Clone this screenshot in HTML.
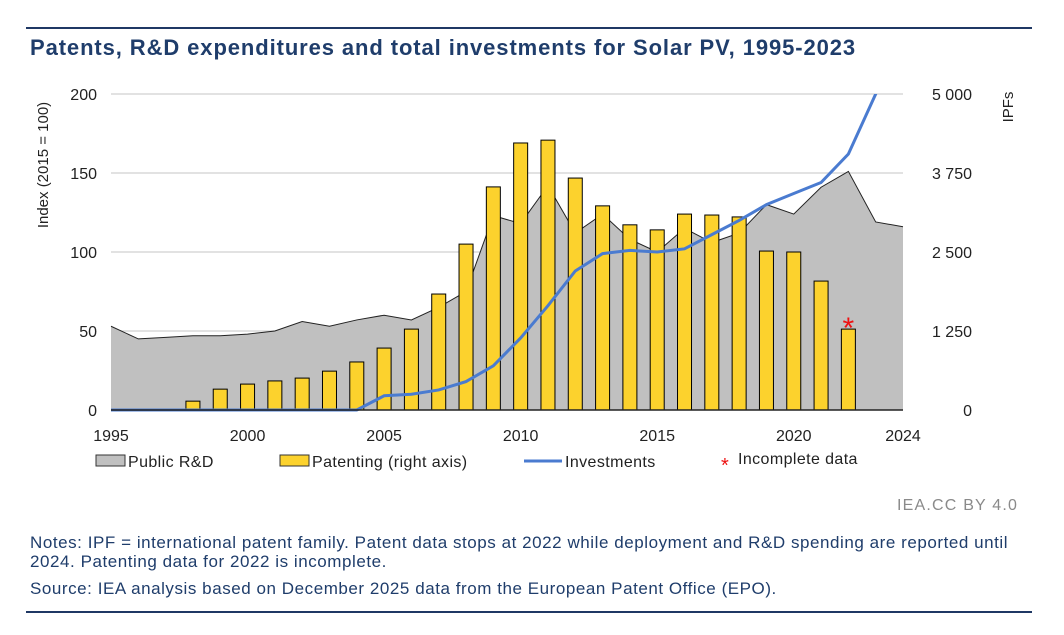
<!DOCTYPE html>
<html><head><meta charset="utf-8">
<style>
body{margin:0;background:#fff;font-family:"Liberation Sans",Arial,sans-serif;}
#wrap{position:relative;width:1064px;height:635px;overflow:hidden;}
.hr{position:absolute;left:26px;width:1006px;height:2px;background:#1f3864;}
.title{position:absolute;left:30px;top:35px;font-size:22px;font-weight:bold;color:#1f3d6b;letter-spacing:0.9px;white-space:nowrap;}
.note{position:absolute;left:30px;font-size:17px;color:#1f3d6b;line-height:19px;width:1010px;letter-spacing:0.55px;}
</style></head><body>
<div id="wrap">
<div class="hr" style="top:27px"></div>
<div class="title">Patents, R&amp;D expenditures and total investments for Solar PV, 1995-2023</div>
<svg id="chart" width="1064" height="500" style="position:absolute;left:0;top:0"></svg>
<div style="position:absolute;left:897px;top:497px;font-size:16px;letter-spacing:1.2px;color:#8a8a8a;white-space:nowrap">IEA.CC BY 4.0</div>
<div class="note" style="top:533px"><span style="white-space:nowrap">Notes: IPF = international patent family. Patent data stops at 2022 while deployment and R&amp;D spending are reported until</span><br>2024. Patenting data for 2022 is incomplete.</div>
<div class="note" style="top:579px;white-space:nowrap">Source: IEA analysis based on December 2025 data from the European Patent Office (EPO).</div>
<div class="hr" style="top:611px"></div>
</div>
<script>
const years=[1995,1996,1997,1998,1999,2000,2001,2002,2003,2004,2005,2006,2007,2008,2009,2010,2011,2012,2013,2014,2015,2016,2017,2018,2019,2020,2021,2022,2023,2024];
const publicRD=[53,45,46,47,47,48,50,56,53,57,60,57,65,75,123,118,142,112,124,108,100,115,106,112,130,124,141,151,119,116];
const patentYears=[1998,1999,2000,2001,2002,2003,2004,2005,2006,2007,2008,2009,2010,2011,2012,2013,2014,2015,2016,2017,2018,2019,2020,2021,2022];
const patents=[140,330,410,460,505,615,760,980,1280,1835,2625,3530,4225,4270,3670,3230,2930,2850,3100,3085,3055,2515,2500,2040,1280];
const investments=[0,0,0,0,0,0,0,0,0,0,9,10,12.7,18,28,45.6,66,88,99,101,100,102,111,120,130,137,144,162,200,245];
const leftTicks=[0,50,100,150,200];
const rightTicks=["0","1 250","2 500","3 750","5 000"];
const xTicks=[1995,2000,2005,2010,2015,2020,2024];
const NS="http://www.w3.org/2000/svg";
const svg=document.getElementById('chart');
const X0=111,X1=903,Y0=410,Y1=94;
const x=y=>X0+(y-1995)*(X1-X0)/29;
const yl=v=>Y0-v*(Y0-Y1)/200;
const yr=v=>Y0-v*(Y0-Y1)/5000;
function mk(t,a){const e=document.createElementNS(NS,t);for(const k in a)e.setAttribute(k,a[k]);svg.appendChild(e);return e;}
const defs=mk('defs',{});
const cp=document.createElementNS(NS,'clipPath');cp.setAttribute('id','pc');
const cr=document.createElementNS(NS,'rect');cr.setAttribute('x',X0-2);cr.setAttribute('y',Y1);cr.setAttribute('width',X1-X0+4);cr.setAttribute('height',Y0-Y1+2);cp.appendChild(cr);defs.appendChild(cp);
leftTicks.forEach((v,i)=>{
 if(v>0){const g=mk('line',{x1:X0,x2:X1,y1:yl(v),y2:yl(v),stroke:'#d9d9d9','stroke-width':1.5});
 }
 const t=mk('text',{x:97,y:yl(v)+6,'text-anchor':'end','font-size':16,fill:'#222'});t.textContent=v;
 
 const r=mk('text',{x:972,y:yl(v)+6,'text-anchor':'end','font-size':16,fill:'#222'});r.textContent=rightTicks[i];
 
});
let d='M'+x(years[0])+','+Y0;years.forEach((yy,i)=>d+=' L'+x(yy)+','+yl(publicRD[i]));d+=' L'+x(years[years.length-1])+','+Y0+'Z';
const area=mk('path',{d:d,fill:'#c0c0c0',stroke:'none'});

let dl='';years.forEach((yy,i)=>dl+=(i?' L':'M')+x(yy)+','+yl(publicRD[i]));
const al=mk('path',{d:dl,fill:'none',stroke:'#222','stroke-width':1});

patentYears.forEach((yy,i)=>{
 const b=mk('rect',{x:x(yy)-7,y:yr(patents[i]),width:14,height:Y0-yr(patents[i]),fill:'#fcd22d',stroke:'#000','stroke-width':1});
 
});
let di='';years.forEach((yy,i)=>di+=(i?' L':'M')+x(yy)+','+yl(investments[i]));
const il=mk('path',{d:di,fill:'none',stroke:'#4a7bd0','stroke-width':3,'clip-path':'url(#pc)'});

const ax=mk('line',{x1:X0,x2:X1,y1:Y0,y2:Y0,stroke:'#222','stroke-width':1.5});

xTicks.forEach(v=>{const t=mk('text',{x:x(v),y:441,'text-anchor':'middle','font-size':16,fill:'#222'});t.textContent=v;
 });
const st=mk('text',{x:x(2022),y:338,'text-anchor':'middle','font-size':30,fill:'#e11'});st.textContent='*';

const yt=mk('text',{x:0,y:0,transform:'translate(48,165) rotate(-90)','text-anchor':'middle','font-size':15,fill:'#222'});yt.textContent='Index (2015 = 100)';

const yt2=mk('text',{x:0,y:0,transform:'translate(1013,107) rotate(-90)','text-anchor':'middle','font-size':15,fill:'#222'});yt2.textContent='IPFs';

const l1=mk('rect',{x:96,y:455,width:29,height:11,fill:'#c0c0c0',stroke:'#333'});
const t1=mk('text',{x:128,y:467,'font-size':16,'letter-spacing':0.4,fill:'#222'});t1.textContent='Public R&D';
const l2=mk('rect',{x:280,y:455,width:29,height:11,fill:'#fcd22d',stroke:'#333'});
const t2=mk('text',{x:312,y:467,'font-size':16,'letter-spacing':0.4,fill:'#222'});t2.textContent='Patenting (right axis)';
const l3=mk('line',{x1:524,x2:562,y1:461,y2:461,stroke:'#4a7bd0','stroke-width':3});
const t3=mk('text',{x:565,y:467,'font-size':16,'letter-spacing':0.4,fill:'#222'});t3.textContent='Investments';
const l4=mk('text',{x:721,y:472,'font-size':20,fill:'#e11'});l4.textContent='*';
const t4=mk('text',{x:738,y:464,'font-size':16,'letter-spacing':0.4,fill:'#222'});t4.textContent='Incomplete data';
</script>
</body></html>
